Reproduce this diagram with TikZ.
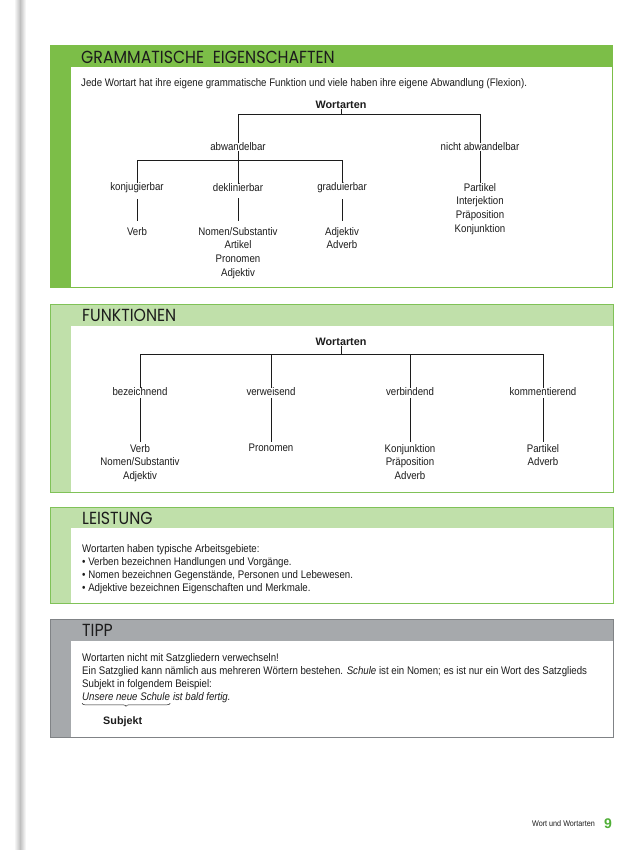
\documentclass[tikz,border=0pt]{standalone}
\usepackage{fontspec}
\setmainfont{Liberation Sans}[FakeStretch=0.88]
\newfontfamily\bfw{Liberation Sans}
\newfontfamily\headfont{Poppins}[FakeStretch=0.9]
\usetikzlibrary{decorations.pathreplacing}
\definecolor{gA}{RGB}{124,190,72}
\definecolor{gB}{RGB}{192,224,170}
\definecolor{gBorder}{RGB}{128,194,88}
\definecolor{grayA}{RGB}{166,169,172}
\definecolor{grayB}{RGB}{128,131,134}
\definecolor{ink}{RGB}{28,28,28}
\definecolor{numgreen}{RGB}{80,175,55}
\begin{document}
\begin{tikzpicture}[x=1pt,y=-1pt,
  every node/.style={inner sep=0pt, text=ink},
  lbl/.style={font=\fontsize{11}{13.7}\selectfont, align=center},
  hd/.style={font=\bfw\fontsize{10.8}{13}\selectfont\bfseries},
  txt/.style={font=\fontsize{11}{13}\selectfont, align=left},
  ttl/.style={font=\headfont\fontsize{17.5}{19}\selectfont},
  tl/.style={draw=ink, line width=0.6pt},
  leafline/.style={tl, shorten <=6pt, shorten >=6pt},
  leafline2/.style={tl, shorten <=2pt, shorten >=2pt}]
\useasboundingbox (0,0) rectangle (638,850);
\fill[white] (0,0) rectangle (638,850);
% binding shadow
\shade[left color=white, right color=black!25] (14,0) rectangle (20,850);
\shade[left color=black!25, right color=white] (20,0) rectangle (26,850);

% ---------- Box 1 ----------
\fill[gA] (50,45) rectangle (613,288);
\fill[white] (71,67) rectangle (612,287);
\node[ttl, anchor=west] (t1) at (81,57) {GRAMMATISCHE\hspace{0.5em}EIGENSCHAFTEN};
\node[txt, anchor=base west] (jede) at (81,87) {Jede Wortart hat ihre eigene grammatische Funktion und viele haben ihre eigene Abwandlung (Flexion).};

\node[hd] (w1) at (341,105) {Wortarten};
\coordinate (b1L) at (238,114);
\coordinate (b1R) at (480,114);
\node[lbl] (ab) at (238,147) {abwandelbar};
\node[lbl] (nab) at (480,147) {nicht abwandelbar};
\coordinate (b2L) at (137,160);
\coordinate (b2R) at (342,160);
\node[lbl] (konj) at (137,188) {konjugierbar};
\node[lbl] (dekl) at (238,188) {deklinierbar};
\node[lbl] (grad) at (342,188) {graduierbar};
\node[lbl, anchor=north] (verb) at (137,227) {Verb};
\node[lbl, anchor=north] (nom) at (238,227) {Nomen/Substantiv\\Artikel\\Pronomen\\Adjektiv};
\node[lbl, anchor=north] (adj) at (342,227) {Adjektiv\\Adverb};
\node[lbl, anchor=north] (part) at (480,183) {Partikel\\Interjektion\\Präposition\\Konjunktion};

\draw[tl] (w1.south) -- (w1.south |- b1L);
\draw[tl] (ab.north) -- (b1L) -- (b1R) -- (nab.north);
\draw[tl] (ab.south) -- (dekl.north);
\draw[tl] (konj.north) -- (b2L) -- (b2R) -- (grad.north);
\draw[tl] (nab.south) -- (part.north);
\draw[leafline] (konj.south) -- (verb.north);
\draw[leafline] (dekl.south) -- (nom.north);
\draw[leafline] (grad.south) -- (adj.north);

% ---------- Box 2 ----------
\fill[gB] (50,304) rectangle (613,492);
\fill[white] (71,326) rectangle (612.5,491.5);
\draw[gBorder, line width=0.8pt] (50,304) rectangle (613,492);
\node[ttl, anchor=west] (t2) at (82,315) {FUNKTIONEN};

\node[hd] (w2) at (341,342) {Wortarten};
\coordinate (c1) at (140,354);
\coordinate (c4) at (543,354);
\node[lbl] (bez) at (140,392) {bezeichnend};
\node[lbl] (ver) at (271,392) {verweisend};
\node[lbl] (vbd) at (410,392) {verbindend};
\node[lbl] (kom) at (543,392) {kommentierend};
\node[lbl, anchor=north] (l1) at (140,444) {Verb\\Nomen/Substantiv\\Adjektiv};
\node[lbl, anchor=north] (l2) at (271,444) {Pronomen};
\node[lbl, anchor=north] (l3) at (410,444) {Konjunktion\\Präposition\\Adverb};
\node[lbl, anchor=north] (l4) at (543,444) {Partikel\\Adverb};

\draw[tl] (w2.south) -- (w2.south |- c1);
\draw[tl] (bez.north) -- (c1) -- (c4) -- (kom.north);
\draw[tl] (ver.north) -- (ver.north |- c1);
\draw[tl] (vbd.north) -- (vbd.north |- c1);
\draw[leafline2] (bez.south) -- (l1.north);
\draw[leafline2] (ver.south) -- (l2.north);
\draw[leafline2] (vbd.south) -- (l3.north);
\draw[leafline2] (kom.south) -- (l4.north);

% ---------- Box 3 ----------
\fill[gB] (50,507) rectangle (613,603);
\fill[white] (71,528) rectangle (612.5,602.5);
\draw[gBorder, line width=0.8pt] (50,507) rectangle (613,603);
\node[ttl, anchor=west] (t3) at (82,518) {LEISTUNG};
\node[txt, anchor=north west] (leis) at (82,544.5) {Wortarten haben typische Arbeitsgebiete:\\
\textbullet\ Verben bezeichnen Handlungen und Vorgänge.\\
\textbullet\ Nomen bezeichnen Gegenstände, Personen und Lebewesen.\\
\textbullet\ Adjektive bezeichnen Eigenschaften und Merkmale.};

% ---------- Box 4 ----------
\fill[grayA] (50,619) rectangle (613,737);
\fill[white] (71,641) rectangle (612.5,736.5);
\draw[grayB, line width=0.8pt] (50,619) rectangle (613,737);
\node[ttl, anchor=west] (t4) at (82,630) {TIPP};
\node[txt, anchor=north west] (tipp) at (82,653.5) {Wortarten nicht mit Satzgliedern verwechseln!\\
Ein Satzglied kann nämlich aus mehreren Wörtern bestehen. \textit{Schule} ist ein Nomen; es ist nur ein Wort des Satzglieds\\
Subjekt in folgendem Beispiel:};
\node[txt, anchor=base west] (ex1) at (82,700) {\itshape Unsere neue Schule};
\node[txt, anchor=base west] (ex2) at (ex1.base east) {\itshape\ ist bald fertig.};
\draw[ink, line width=0.5pt, decorate, decoration={brace, mirror, amplitude=3pt}]
  ([yshift=-3pt]ex1.south west) -- ([yshift=-3pt]ex1.south east);
\node[hd, anchor=base west] (subj) at (103,724) {Subjekt};

% ---------- footer ----------
\node[font=\fontsize{8.2}{10}\selectfont, anchor=base east] (foot) at (595,826) {Wort und Wortarten};
\node[font=\bfw\fontsize{14}{16}\selectfont\bfseries, text=numgreen, anchor=base] (pg) at (608,828) {9};
\end{tikzpicture}
\end{document}
